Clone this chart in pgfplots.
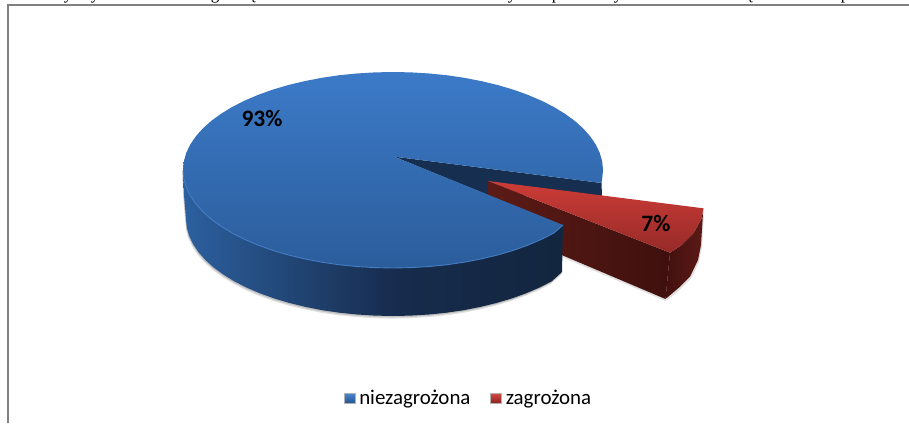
\documentclass[border=0pt]{standalone}
\usepackage{pgfplots}
\usepackage{pgfplotstable}
\usepackage{fontspec}
\pgfplotsset{compat=1.18}
\setmainfont{Carlito}
\newfontfamily\serifpart{Liberation Serif}
\definecolor{frame}{HTML}{808080}
\definecolor{wedge}{HTML}{162F50}
\pgfdeclarehorizontalshading{bluesideshade}{100bp}{
  rgb(0bp)=(0.173,0.376,0.624);rgb(25bp)=(0.173,0.376,0.624);
  rgb(38bp)=(0.133,0.282,0.471);rgb(53bp)=(0.090,0.169,0.302);
  rgb(75bp)=(0.071,0.149,0.247);rgb(100bp)=(0.071,0.149,0.247)}
\pgfplotstableread{
x y
183 170
184 195
186 219
186.8 227.5
189.1 235.8
193.1 244.1
198.5 252.2
205.4 260
213.7 267.5
223.4 274.6
234.4 281.4
246.6 287.6
259.9 293.3
274.3 298.5
289.5 303
305.5 306.9
322.2 310.2
339.4 312.7
357.1 314.5
375 315.6
393 316
411 315.6
428.9 314.5
446.6 312.7
463.8 310.2
480.5 306.9
496.5 303
511.7 298.5
526.1 293.3
539.4 287.6
551.6 281.4
562 272
563 225
393 170
}\bluesidetable
\pgfplotstableread{
x y
601.5 183
602.2 178.5
603 170
602.2 161.5
599.8 153
595.8 144.6
590.3 136.5
583.3 128.6
574.9 121
565 113.8
553.9 107
541.5 100.7
528 94.9
513.5 89.7
498 85.1
481.7 81.2
464.8 77.9
447.3 75.3
429.5 73.5
411.3 72.4
393 72
374.7 72.4
356.5 73.5
338.7 75.3
321.2 77.9
304.3 81.2
288 85.1
272.5 89.7
258 94.9
244.5 100.7
232.1 107
221 113.8
211.1 121
202.7 128.6
195.7 136.5
190.2 144.6
186.2 153
183.8 161.5
183 170
183.8 178.5
186.2 187
190.2 195.4
195.7 203.5
202.7 211.4
211.1 219
221 226.2
232.1 233
244.5 239.3
258 245.1
272.5 250.3
288 254.9
304.3 258.8
321.2 262.1
338.7 264.7
356.5 266.5
374.7 267.6
393 268
411.3 267.6
429.5 266.5
447.3 264.7
464.8 262.1
481.7 258.8
498 254.9
513.5 250.3
528 245.1
541.5 239.3
553.9 233
563 225
394 156.6
}\bluetoptable
\pgfplotstableread{
x y
183 170
183.8 178.5
186.2 187
190.2 195.4
195.7 203.5
202.7 211.4
211.1 219
221 226.2
232.1 233
244.5 239.3
258 245.1
272.5 250.3
288 254.9
304.3 258.8
321.2 262.1
338.7 264.7
356.5 266.5
374.7 267.6
393 268
411.3 267.6
429.5 266.5
447.3 264.7
464.8 262.1
481.7 258.8
498 254.9
513.5 250.3
528 245.1
541.5 239.3
553.9 233
563 225
}\bluerimtable
\pgfplotstableread{
x y
488 181
488 195
500 229
561.7 255
665.5 299
670 252.7
}\redsidetable
\pgfplotstableread{
x y
670 252.7
665.5 299
680 286.7
690 276.7
698 260
701 245
703.3 208.3
701.7 218.3
693.3 233.3
681.7 245
}\redoutertable
\pgfplotstableread{
x y
488 181
703.3 208.3
701.7 218.3
693.3 233.3
681.7 245
670 252.7
}\redtoptable
\begin{document}
\begin{tikzpicture}[x=1pt,y=1pt]
\useasboundingbox (0,0) rectangle (909,423);
\begin{axis}[
  at={(0,0)},anchor=south west,
  scale only axis,width=909pt,height=423pt,
  xmin=0,xmax=909,ymin=0,ymax=423,y dir=reverse,
  hide axis,clip=false,
  legend columns=2,
  legend style={at={(axis cs:469.5,398)},anchor=center,draw=none,fill=none,
    font=\fontsize{20.9}{22}\selectfont,inner sep=0pt,
    /tikz/every even column/.append style={column sep=16pt},
    nodes={inner xsep=4pt,inner ysep=1pt}},
  legend image code/.code={}
]
% frame
\addplot[forget plot,frame,line width=1.8pt] coordinates {(7.8,423) (7.8,5) (909,5)};
% soft shadow
\addplot[forget plot,fill=gray!25,draw=none,yshift=-2.6pt,xshift=-0.8pt] table {\bluesidetable};
\addplot[forget plot,fill=gray!50,draw=none,yshift=-1.3pt,xshift=-0.4pt] table {\bluesidetable};
\addplot[forget plot,fill=gray!25,draw=none,yshift=-2pt,xshift=1pt] table {\redoutertable};
\addplot[forget plot,fill=gray!25,draw=none,yshift=-2pt] table {\redsidetable};
% interior of the cut
\addplot[forget plot,fill=wedge,draw=none] coordinates {(394,156.6) (601.5,183) (602,196) (488,195)};
% red slice
\addplot[forget plot,shade,left color={rgb,255:red,92;green,27;blue,22},right color={rgb,255:red,62;green,16;blue,14},draw=none] table {\redsidetable};
\addplot[forget plot,shade,left color={rgb,255:red,66;green,16;blue,14},right color={rgb,255:red,92;green,26;blue,22},draw=none] table {\redoutertable};
% blue slice
\addplot[forget plot,shading=bluesideshade,draw=none] table {\bluesidetable};
\addplot[forget plot,shade,top color={rgb,255:red,60;green,122;blue,200},bottom color={rgb,255:red,43;green,93;blue,155},draw=none] table {\bluetoptable};
\addplot[forget plot,draw={rgb,255:red,68;green,125;blue,196},line width=0.9pt] table {\bluerimtable};
% red top
\addplot[forget plot,shade,top color={rgb,255:red,205;green,60;blue,55},bottom color={rgb,255:red,150;green,42;blue,40},draw=none] table {\redtoptable};
% labels
\node[font=\fontsize{23.5}{24}\selectfont\bfseries,inner sep=0pt] at (axis cs:262,118) {93\%};
\node[font=\fontsize{23.5}{24}\selectfont\bfseries,inner sep=0pt] at (axis cs:656,223) {7\%};
% clipped line of text above the frame
\foreach \px/\ch in {68/y,95/y,215/g,253/ę,512/y,556/p,618/y,750/ę,845/p}{
  \edef\tmp{\noexpand\node[font=\noexpand\serifpart\noexpand\fontsize{17}{18}\noexpand\selectfont,anchor=base,inner sep=0pt] at (axis cs:\px,0) {\ch};}\tmp
}
% legend
\addlegendimage{legend image code/.code={\path[shade,top color={rgb,255:red,75;green,135;blue,210},bottom color={rgb,255:red,38;green,85;blue,145},draw=gray!60,line width=0.3pt] (0pt,-5pt) rectangle (11pt,5pt);}}
\addlegendentry{niezagrożona}
\addlegendimage{legend image code/.code={\path[shade,top color={rgb,255:red,215;green,75;blue,70},bottom color={rgb,255:red,140;green,35;blue,32},draw=gray!60,line width=0.3pt] (0pt,-5pt) rectangle (11pt,5pt);}}
\addlegendentry{zagrożona}
\end{axis}
\end{tikzpicture}
\end{document}
